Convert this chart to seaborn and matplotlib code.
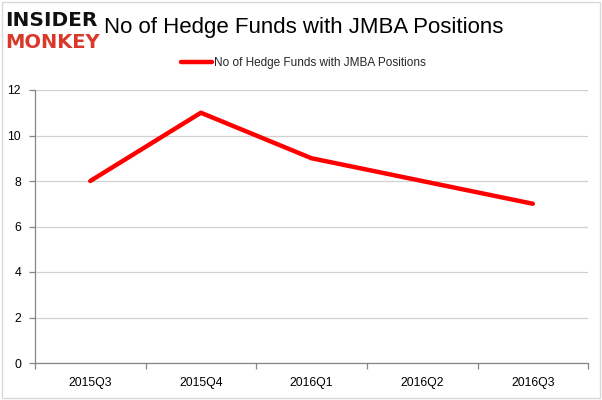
import matplotlib
matplotlib.use("Agg")
import matplotlib.pyplot as plt
import seaborn as sns
import pandas as pd
from matplotlib.patches import Rectangle

quarters = ["2015Q3", "2015Q4", "2016Q1", "2016Q2", "2016Q3"]
funds = [8, 11, 9, 8, 7]
series_name = "No of Hedge Funds with JMBA Positions"
y_ticks = [0, 2, 4, 6, 8, 10, 12]

sns.set_theme(style="white")
plt.rcParams['font.family'] = ['Liberation Sans', 'DejaVu Sans']

df = pd.DataFrame({"quarter": quarters, "funds": funds})

fig = plt.figure(figsize=(6.02, 4.00), dpi=100)
ax = fig.add_axes([0.058, 0.0925, 0.919, 0.6825])

sns.lineplot(data=df, x="quarter", y="funds", ax=ax, color="#ff0000",
             linewidth=3.2, label=series_name, sort=False)

ax.set_xlim(-0.5, len(quarters) - 0.5)
ax.set_ylim(0, 12)
ax.set_yticks(y_ticks)
ax.set_yticklabels([str(v) for v in y_ticks])
ax.set_xlabel("")
ax.set_ylabel("")
ax.grid(axis="y", color="#d0d0d0", linewidth=0.9)
ax.grid(axis="x", visible=False)
for s in ["top", "right"]:
    ax.spines[s].set_visible(False)
for s in ["left", "bottom"]:
    ax.spines[s].set_color("#868686")
    ax.spines[s].set_linewidth(0.9)

ax.set_xticks(range(len(quarters)))
ax.set_xticklabels(quarters)
ax.set_xticks([i - 0.5 for i in range(len(quarters) + 1)], minor=True)
ax.tick_params(axis="x", which="major", length=0, labelsize=8.8, pad=10, colors="#000000")
ax.tick_params(axis="x", which="minor", length=4, color="#868686", width=0.9, direction="out", bottom=True)
ax.tick_params(axis="y", which="major", length=4, color="#868686", width=0.9, direction="out",
               left=True, labelsize=8.8, pad=6, colors="#000000")

leg = ax.legend(loc="center", bbox_to_anchor=(0.485, 1.098), frameon=False,
                fontsize=8.5, handlelength=2.6, handletextpad=0.15)

fig.text(0.505, 0.932, series_name, ha="center", va="center", fontsize=16, color="#000000")

fig.text(0.008, 0.95, "INSIDER", ha="left", va="center", fontsize=14.5, fontweight="heavy",
         color="#111111", family="DejaVu Sans")
fig.text(0.008, 0.895, "MONKEY", ha="left", va="center", fontsize=14, fontweight="heavy",
         color="#d9392b", family="DejaVu Sans")

fig.patches.append(Rectangle((0.003, 0.005), 0.994, 0.99, transform=fig.transFigure,
                             fill=False, edgecolor="#d9d9d9", linewidth=1.0))

fig.savefig("out.png", dpi=100)
